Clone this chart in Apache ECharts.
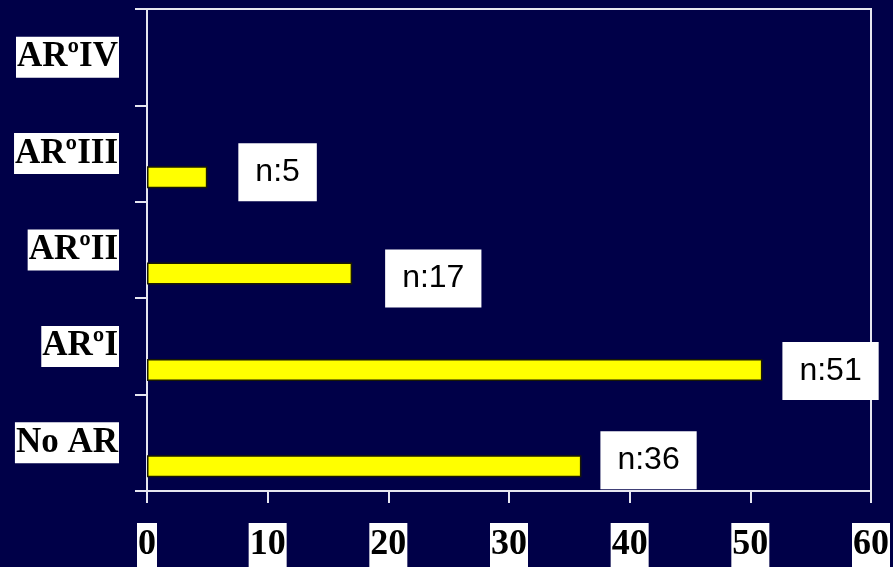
<!DOCTYPE html>
<html>
<head>
<meta charset="utf-8">
<script src="https://cdn.jsdelivr.net/npm/echarts@6/dist/echarts.min.js"></script>
<style>
  html, body { margin: 0; padding: 0; background: #000048; }
  #chart { width: 893px; height: 567px; }
</style>
</head>
<body>
<div id="chart"></div>
<script>
const categories = ['No AR', 'ARºI', 'ARºII', 'ARºIII', 'ARºIV'];
const counts = [36, 51, 17, 5, null];
const xTicks = { min: 0, max: 60, interval: 10 };

// label placement tweaks (style only)
const labelShift = [[1, -6], [2, 1], [15, 5], [13, -5], [0, 0]];

const chart = echarts.init(document.getElementById('chart'), null, { renderer: 'canvas' });

const lineColor = '#e6e6f0';

const option = {
  backgroundColor: '#000048',
  animation: false,
  grid: {
    left: 147, right: 20, top: 9, bottom: 74,
    show: true, borderColor: lineColor, borderWidth: 2,
    backgroundColor: 'transparent',
    containLabel: false
  },
  xAxis: {
    type: 'value',
    min: xTicks.min, max: xTicks.max, interval: xTicks.interval,
    axisLine: { show: true, lineStyle: { color: lineColor, width: 2 } },
    axisTick: { show: true, inside: false, length: 12, lineStyle: { color: lineColor, width: 2 } },
    splitLine: { show: false },
    axisLabel: {
      margin: 32,
      color: '#000',
      fontFamily: 'Liberation Serif',
      fontWeight: 'bold',
      fontSize: 36,
      lineHeight: 36,
      backgroundColor: '#fff',
      padding: [4, 1, 4, 1]
    }
  },
  yAxis: {
    type: 'category',
    data: categories,
    axisLine: { show: true, lineStyle: { color: lineColor, width: 2 } },
    axisTick: { show: true, inside: false, length: 12, alignWithLabel: false, lineStyle: { color: lineColor, width: 2 } },
    splitLine: { show: false },
    axisLabel: {
      margin: 28,
      color: '#000',
      fontFamily: 'Liberation Serif',
      fontWeight: 'bold',
      fontSize: 35,
      lineHeight: 35,
      backgroundColor: '#fff',
      padding: [3, 1, 3, 1]
    }
  },
  series: [
    {
      type: 'bar',
      name: 'empty',
      data: categories.map(() => null),
      barWidth: 22,
      barGap: '114%',
      itemStyle: { color: 'transparent' },
      silent: true
    },
    {
      type: 'bar',
      name: 'n',
      data: counts.map((v, i) => ({
        value: v,
        label: { offset: labelShift[i] }
      })),
      barWidth: 22,
      barGap: '114%',
      itemStyle: { color: '#ffff00', borderColor: '#1a1a00', borderWidth: 1.5 },
      label: {
        show: true,
        position: 'right',
        distance: 18,
        formatter: p => (p.value == null ? '' : 'n:' + p.value),
        color: '#000',
        fontFamily: 'Liberation Sans',
        fontSize: 32,
        lineHeight: 32,
        backgroundColor: '#fff',
        padding: [13, 17, 13, 17]
      }
    }
  ]
};

chart.setOption(option);
</script>
</body>
</html>
